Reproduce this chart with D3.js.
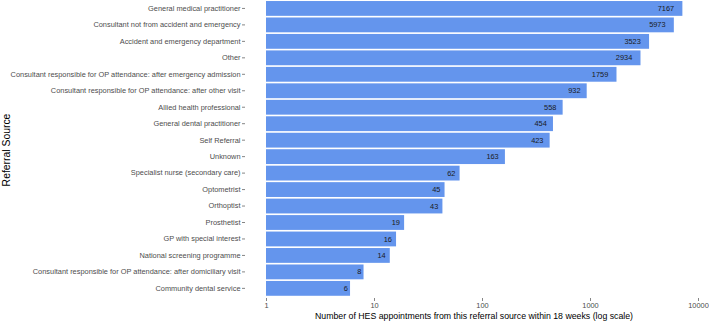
<!DOCTYPE html>
<html>
<head>
<meta charset="utf-8">
<script src="https://cdn.jsdelivr.net/npm/d3@7"></script>
<style>
  body { margin: 0; background: #fff; }
  svg { display: block; font-family: "Liberation Sans", Arial, sans-serif; }
  .tick-label { fill: #4d4d4d; font-size: 7.4px; }
  .value { fill: #1a1a1a; font-size: 7.4px; }
  .title { fill: #000; font-size: 8.75px; }
  .title-y { fill: #000; font-size: 10.4px; }
</style>
</head>
<body>
<div class="container"></div>
<script>
const sources = [
	"General medical practitioner",
	"Consultant not from accident and emergency",
	"Accident and emergency department",
	"Other",
	"Consultant responsible for OP attendance: after emergency admission",
	"Consultant responsible for OP attendance: after other visit",
	"Allied health professional",
	"General dental practitioner",
	"Self Referral",
	"Unknown",
	"Specialist nurse (secondary care)",
	"Optometrist",
	"Orthoptist",
	"Prosthetist",
	"GP with special interest",
	"National screening programme",
	"Consultant responsible for OP attendance: after domiciliary visit",
	"Community dental service"
];
const counts = [7167, 5973, 3523, 2934, 1759, 932, 558, 454, 423, 163, 62, 45, 43, 19, 16, 14, 8, 6];
const xTicks = [1, 10, 100, 1000, 10000];

const width = 709;
const height = 321;

const svg = d3.select(".container").append("svg")
	.attr("width", width)
	.attr("height", height);

const data = sources.map((name, i) => ({ name: name, value: counts[i] }));

const panelLeft = 245;
const panelBottom = 298;

const x = d3.scaleLog()
	.domain([1, 10000])
	.range([266, 698]);

const y = d3.scaleBand()
	.domain(sources)
	.range([0.2, 296.6])
	.paddingInner(0.1)
	.paddingOuter(0.05);

// bars
svg.append("g")
	.selectAll("rect")
		.data(data).enter()
	.append("rect")
		.attr("x", x(1))
		.attr("y", (d) => y(d.name))
		.attr("width", (d) => x(d.value) - x(1))
		.attr("height", y.bandwidth())
		.style("fill", "#6495ED");

// value labels, hjust 1.5 like ggplot
const values = svg.append("g")
	.selectAll("text")
		.data(data).enter()
	.append("text")
		.attr("class", "value")
		.attr("y", (d) => y(d.name) + y.bandwidth() / 2)
		.attr("dy", "0.35em")
		.attr("text-anchor", "end")
		.text((d) => d.value);

values.attr("x", function(d) {
	const w = this.getComputedTextLength();
	return x(d.value) - 0.5 * w;
});

// y axis
const yAxis = svg.append("g")
	.attr("transform", `translate(${panelLeft},0)`)
	.call(d3.axisLeft(y).tickSize(3).tickPadding(1.5));
yAxis.select(".domain").remove();
yAxis.selectAll("line").style("stroke", "#333").style("stroke-width", 0.6);
yAxis.selectAll("text").attr("class", "tick-label").attr("font-size", null).attr("font-family", null);

// x axis
const xAxis = svg.append("g")
	.attr("transform", `translate(0,${panelBottom})`)
	.call(d3.axisBottom(x).tickValues(xTicks).tickFormat(d3.format("d")).tickSize(3).tickPadding(2));
xAxis.select(".domain").remove();
xAxis.selectAll("line").style("stroke", "#333").style("stroke-width", 0.6);
xAxis.selectAll("text").attr("class", "tick-label").attr("font-size", null).attr("font-family", null);

// titles
svg.append("text")
	.attr("class", "title")
	.attr("x", 474)
	.attr("y", 318.5)
	.attr("text-anchor", "middle")
	.text("Number of HES appointments from this referral source within 18 weeks (log scale)");

svg.append("text")
	.attr("class", "title-y")
	.attr("transform", `translate(9.5,150) rotate(-90)`)
	.attr("text-anchor", "middle")
	.text("Referral Source");
</script>
</body>
</html>
